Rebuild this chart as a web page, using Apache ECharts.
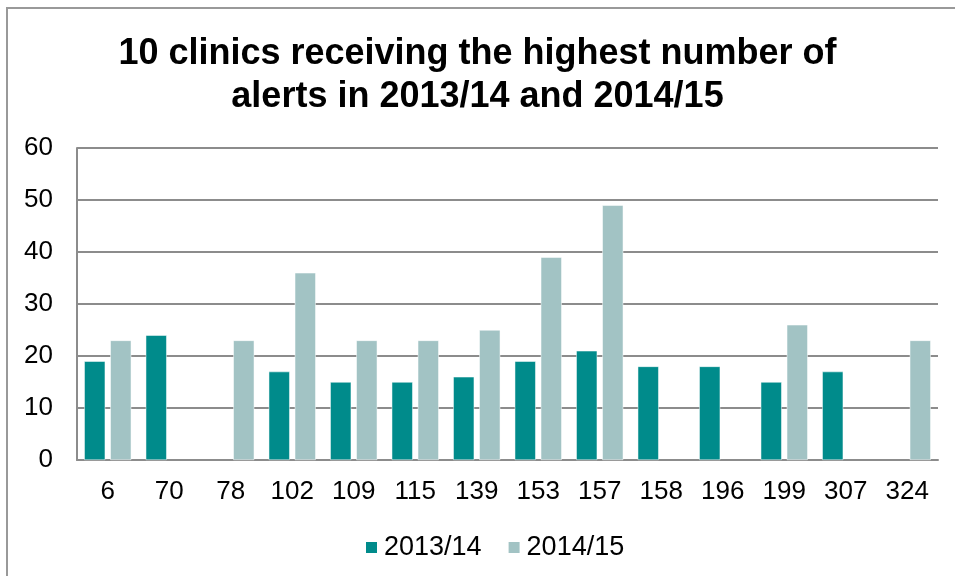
<!DOCTYPE html>
<html>
<head>
<meta charset="utf-8">
<title>10 clinics receiving the highest number of alerts</title>
<script src="https://cdn.jsdelivr.net/npm/echarts@6/dist/echarts.min.js"></script>
<style>
  html, body { margin: 0; padding: 0; background: #fff; }
  #main { width: 955px; height: 576px; }
</style>
</head>
<body>
<div id="main"></div>
<script type="text/javascript">
var clinics = ['6', '70', '78', '102', '109', '115', '139', '153', '157', '158', '196', '199', '307', '324'];
var alerts1314 = [19, 24, null, 17, 15, 15, 16, 19, 21, 18, 18, 15, 17, null];
var alerts1415 = [23, null, 23, 36, 23, 23, 25, 39, 49, null, null, 26, null, 23];

var myChart = echarts.init(document.getElementById('main'));

var option = {
    animation: false,
    textStyle: { fontFamily: 'Liberation Sans, Arial, sans-serif' },
    title: {
        text: '10 clinics receiving the highest number of\nalerts in 2013/14 and 2014/15',
        left: 'center',
        top: 28,
        textStyle: {
            fontSize: 36,
            fontWeight: 'bold',
            color: '#000',
            lineHeight: 43
        }
    },
    graphic: [{
        type: 'rect',
        shape: { x: 7, y: 8, width: 1000, height: 1000 },
        style: { fill: 'none', stroke: '#999', lineWidth: 2 },
        silent: true
    }],
    legend: {
        bottom: 10,
        left: 359,
        itemWidth: 13,
        itemHeight: 13,
        itemGap: 25,
        icon: 'rect',
        textStyle: { fontSize: 27, color: '#000', padding: [0, 0, 0, 1] },
        data: ['2013/14', '2014/15']
    },
    grid: {
        left: 77,
        right: 17,
        top: 148,
        bottom: 116
    },
    xAxis: {
        type: 'category',
        data: clinics,
        axisLine: { lineStyle: { color: '#8c8c8c', width: 2 } },
        axisTick: { show: false },
        axisLabel: { fontSize: 26, color: '#000', margin: 19 }
    },
    yAxis: {
        type: 'value',
        min: 0,
        max: 60,
        interval: 10,
        axisLine: { show: true, lineStyle: { color: '#8c8c8c', width: 2 } },
        axisTick: { show: false },
        axisLabel: { fontSize: 26, color: '#000', margin: 24 },
        splitLine: { lineStyle: { color: '#8c8c8c', width: 2 } }
    },
    series: [
        {
            name: '2013/14',
            type: 'bar',
            data: alerts1314,
            barWidth: 21,
            barGap: '24%',
            itemStyle: { color: '#008b8b', borderColor: '#fff', borderWidth: 0.5 }
        },
        {
            name: '2014/15',
            type: 'bar',
            data: alerts1415,
            barWidth: 21,
            itemStyle: { color: '#a2c3c4', borderColor: '#fff', borderWidth: 0.5 }
        }
    ]
};
myChart.setOption(option);
</script>
</body>
</html>
